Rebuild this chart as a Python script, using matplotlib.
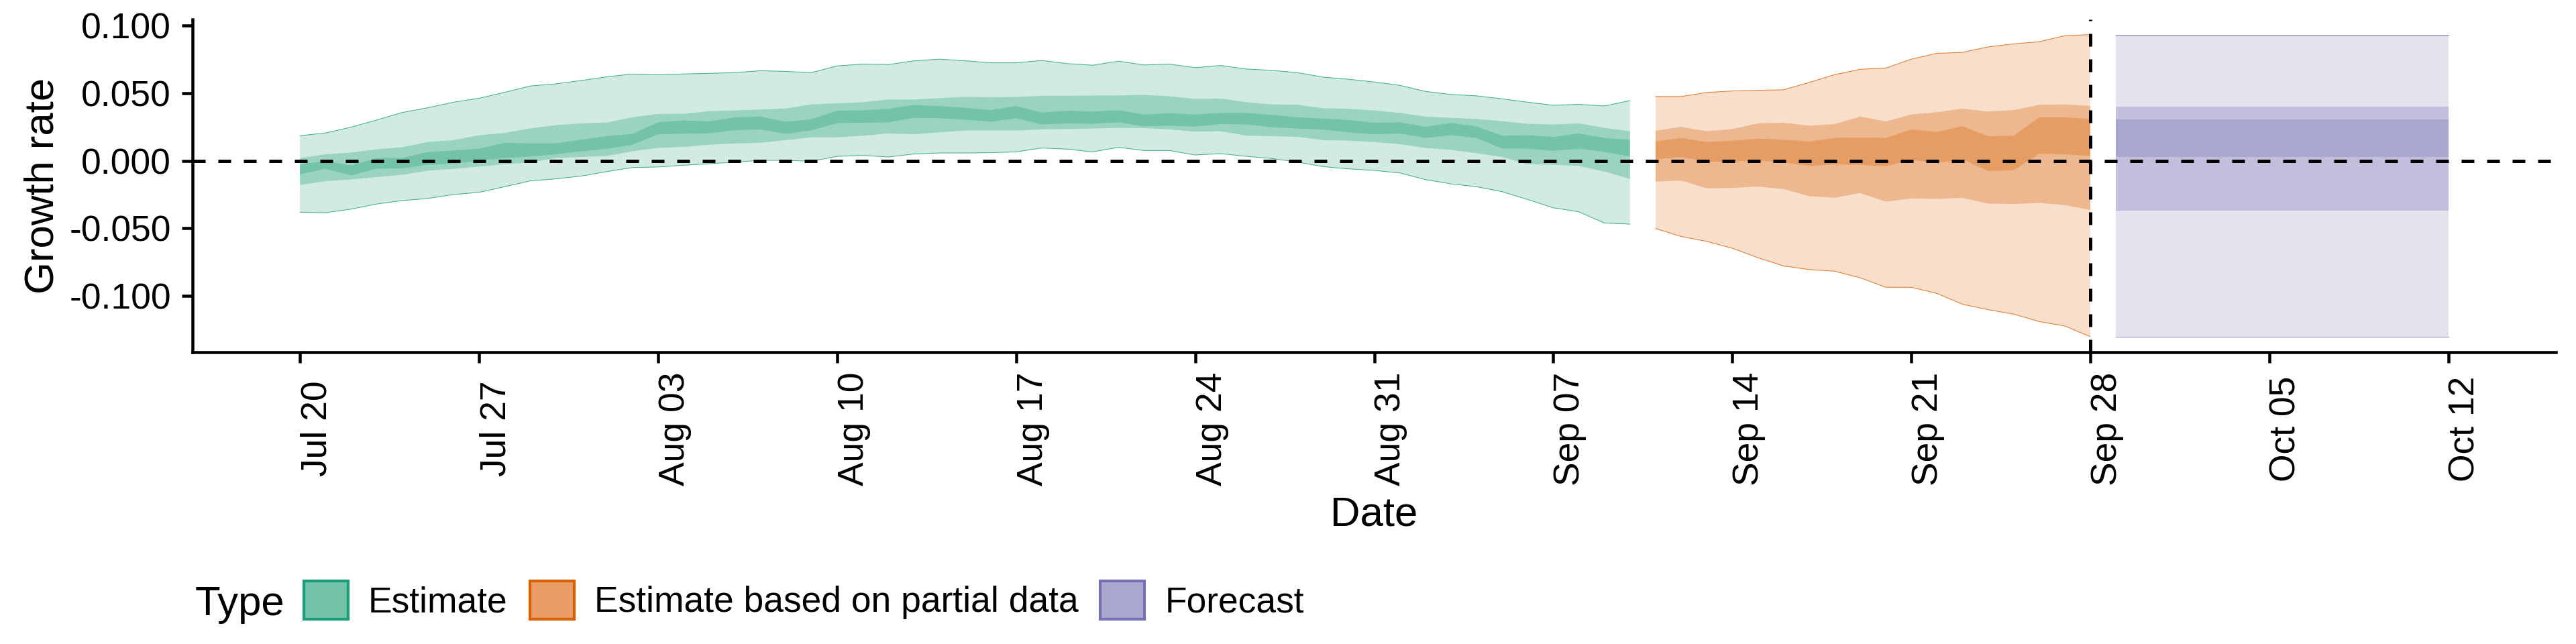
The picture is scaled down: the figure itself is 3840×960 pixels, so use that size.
import numpy as np
import pandas as pd
import matplotlib
matplotlib.use("Agg")
import matplotlib.pyplot as plt
from matplotlib.patches import Patch
from matplotlib.colors import to_rgba

plt.rcParams['font.family'] = ['Liberation Sans', 'DejaVu Sans']

# ---- data (growth rate credible intervals) ----
est_dates = pd.date_range("2020-07-20", "2020-09-10")
est_up90 = [0.0186, 0.0206, 0.0249, 0.0302, 0.0358, 0.0393, 0.0434, 0.0463, 0.0507, 0.0554,
            0.0570, 0.0595, 0.0622, 0.0643, 0.0637, 0.0643, 0.0648, 0.0653, 0.0667, 0.0662,
            0.0653, 0.0703, 0.0716, 0.0713, 0.0740, 0.0753, 0.0741, 0.0726, 0.0726, 0.0743,
            0.0720, 0.0708, 0.0738, 0.0710, 0.0716, 0.0690, 0.0706, 0.0680, 0.0670, 0.0653,
            0.0620, 0.0604, 0.0584, 0.0559, 0.0514, 0.0491, 0.0481, 0.0459, 0.0434, 0.0411,
            0.0418, 0.0406, 0.0446]
est_up50 = [0.0020, 0.0048, 0.0061, 0.0085, 0.0101, 0.0139, 0.0153, 0.0189, 0.0207, 0.0240,
            0.0264, 0.0277, 0.0284, 0.0322, 0.0347, 0.0348, 0.0368, 0.0373, 0.0380, 0.0388,
            0.0418, 0.0426, 0.0434, 0.0454, 0.0454, 0.0464, 0.0474, 0.0471, 0.0473, 0.0481,
            0.0481, 0.0484, 0.0484, 0.0489, 0.0478, 0.0459, 0.0461, 0.0434, 0.0418, 0.0415,
            0.0390, 0.0385, 0.0373, 0.0355, 0.0327, 0.0318, 0.0310, 0.0294, 0.0274, 0.0269,
            0.0277, 0.0244, 0.0219]
est_up20 = [-0.0025, -0.0002, -0.0035, 0.0020, 0.0020, 0.0065, 0.0076, 0.0090, 0.0133, 0.0129,
            0.0129, 0.0156, 0.0182, 0.0199, 0.0285, 0.0299, 0.0292, 0.0322, 0.0328, 0.0289,
            0.0308, 0.0371, 0.0373, 0.0385, 0.0413, 0.0405, 0.0393, 0.0376, 0.0406, 0.0357,
            0.0371, 0.0365, 0.0375, 0.0343, 0.0352, 0.0343, 0.0355, 0.0355, 0.0340, 0.0322,
            0.0313, 0.0302, 0.0282, 0.0285, 0.0252, 0.0280, 0.0255, 0.0186, 0.0189, 0.0177,
            0.0202, 0.0169, 0.0156]
est_lo20 = [-0.0100, -0.0060, -0.0108, -0.0058, -0.0056, -0.0030, -0.0020, 0.0000, 0.0020, 0.0032,
            0.0048, 0.0070, 0.0088, 0.0119, 0.0196, 0.0201, 0.0204, 0.0226, 0.0232, 0.0199,
            0.0226, 0.0279, 0.0282, 0.0285, 0.0318, 0.0315, 0.0305, 0.0289, 0.0315, 0.0269,
            0.0277, 0.0274, 0.0285, 0.0255, 0.0260, 0.0254, 0.0272, 0.0269, 0.0249, 0.0239,
            0.0231, 0.0211, 0.0196, 0.0202, 0.0169, 0.0189, 0.0169, 0.0090, 0.0090, 0.0073,
            0.0090, 0.0066, 0.0032]
est_lo50 = [-0.0179, -0.0151, -0.0138, -0.0121, -0.0104, -0.0073, -0.0060, -0.0043, -0.0025, -0.0013,
            0.0020, 0.0028, 0.0036, 0.0070, 0.0095, 0.0103, 0.0119, 0.0128, 0.0133, 0.0153,
            0.0174, 0.0174, 0.0186, 0.0202, 0.0197, 0.0211, 0.0224, 0.0224, 0.0224, 0.0232,
            0.0235, 0.0239, 0.0244, 0.0242, 0.0232, 0.0216, 0.0219, 0.0186, 0.0182, 0.0177,
            0.0153, 0.0149, 0.0139, 0.0123, 0.0095, 0.0081, 0.0056, 0.0028, -0.0025, -0.0030,
            -0.0038, -0.0080, -0.0134]
est_lo90 = [-0.0381, -0.0385, -0.0358, -0.0320, -0.0295, -0.0279, -0.0250, -0.0234, -0.0192, -0.0149,
            -0.0134, -0.0113, -0.0080, -0.0050, -0.0046, -0.0033, -0.0022, -0.0010, 0.0003, 0.0003,
            -0.0003, 0.0033, 0.0040, 0.0028, 0.0050, 0.0058, 0.0058, 0.0060, 0.0066, 0.0095,
            0.0086, 0.0066, 0.0100, 0.0076, 0.0076, 0.0043, 0.0053, 0.0033, 0.0017, -0.0010,
            -0.0043, -0.0060, -0.0071, -0.0090, -0.0139, -0.0171, -0.0192, -0.0229, -0.0287, -0.0348,
            -0.0378, -0.0461, -0.0469]

part_dates = pd.date_range("2020-09-11", "2020-09-28")
part_up90 = [0.0476, 0.0476, 0.0506, 0.0517, 0.0522, 0.0526, 0.0580, 0.0638, 0.0678, 0.0687,
             0.0753, 0.0796, 0.0803, 0.0844, 0.0866, 0.0882, 0.0927, 0.0935]
part_up50 = [0.0222, 0.0252, 0.0219, 0.0235, 0.0277, 0.0282, 0.0260, 0.0272, 0.0327, 0.0292,
             0.0343, 0.0360, 0.0386, 0.0365, 0.0376, 0.0415, 0.0418, 0.0406]
part_up20 = [0.0144, 0.0169, 0.0139, 0.0148, 0.0164, 0.0156, 0.0143, 0.0169, 0.0172, 0.0169,
             0.0232, 0.0214, 0.0257, 0.0181, 0.0186, 0.0322, 0.0322, 0.0310]
part_lo20 = [0.0012, 0.0028, -0.0008, -0.0005, 0.0003, -0.0013, -0.0038, -0.0027, -0.0030, -0.0041,
             0.0007, -0.0017, 0.0012, -0.0076, -0.0071, 0.0053, 0.0048, 0.0036]
part_lo50 = [-0.0154, -0.0146, -0.0204, -0.0201, -0.0191, -0.0209, -0.0262, -0.0274, -0.0239, -0.0303,
             -0.0279, -0.0282, -0.0275, -0.0317, -0.0320, -0.0312, -0.0328, -0.0365]
part_lo90 = [-0.0502, -0.0561, -0.0597, -0.0648, -0.0718, -0.0779, -0.0806, -0.0818, -0.0867, -0.0937,
             -0.0937, -0.0983, -0.1063, -0.1103, -0.1136, -0.1191, -0.1224, -0.1303]

fc_dates = pd.to_datetime(["2020-09-29", "2020-10-12"])
fc_up90 = [0.0933, 0.0933]
fc_up50 = [0.0400, 0.0400]
fc_up20 = [0.0307, 0.0307]
fc_lo20 = [0.0027, 0.0027]
fc_lo50 = [-0.0371, -0.0371]
fc_lo90 = [-0.1306, -0.1306]

types = ["Estimate", "Estimate based on partial data", "Forecast"]
colours = ["#1B9E77", "#D95F02", "#7570B3"]
forecast_start = pd.Timestamp("2020-09-28")
x_ticks = pd.date_range("2020-07-20", "2020-10-12", freq="7D")
y_ticks = [-0.1, -0.05, 0.0, 0.05, 0.1]

groups = [
    (est_dates, est_lo90, est_lo50, est_lo20, est_up20, est_up50, est_up90),
    (part_dates, part_lo90, part_lo50, part_lo20, part_up20, part_up50, part_up90),
    (fc_dates, fc_lo90, fc_lo50, fc_lo20, fc_up20, fc_up50, fc_up90),
]

# ---- figure ----
W, H = 3840, 960
fig = plt.figure(figsize=(12.8, 3.2), dpi=300)
ax = fig.add_axes([287 / W, 1 - 525 / H, (3810 - 287) / W, (525 - 29) / H])

for (d, lo90, lo50, lo20, up20, up50, up90), col in zip(groups, colours):
    ax.fill_between(d, lo90, up90, facecolor=col, alpha=0.2, linewidth=0)
    ax.fill_between(d, lo50, up50, facecolor=col, alpha=0.3, linewidth=0)
    ax.fill_between(d, lo20, up20, facecolor=col, alpha=0.3, linewidth=0)
    ax.plot(d, up90, color=col, lw=0.25, alpha=0.8)
    ax.plot(d, lo90, color=col, lw=0.25, alpha=0.8)

dash = (0, (3.8, 3.8))
ax.axhline(0, color="black", lw=1.2, linestyle=dash)
ax.axvline(forecast_start, color="black", lw=1.2, linestyle=dash)

ax.margins(x=0.05, y=0.05)

for s in ["top", "right"]:
    ax.spines[s].set_visible(False)
for s in ["left", "bottom"]:
    ax.spines[s].set_linewidth(1.08)

ax.set_xticks(x_ticks)
ax.set_xticklabels([t.strftime("%b %d") for t in x_ticks], rotation=90, ha="left", va="center")
ax.set_yticks(y_ticks)
ax.set_yticklabels([f"{v:.3f}" for v in y_ticks])
ax.tick_params(axis="both", direction="out", length=3.84, width=1.08,
               labelsize=12.8, colors="black")
ax.tick_params(axis="x", pad=23.5)
ax.tick_params(axis="y", pad=3.84)

ax.set_ylabel("Growth rate", fontsize=14.8)
ax.yaxis.set_label_coords((93 - 287) / (3810 - 287), 0.5)
ax.set_xlabel("Date", fontsize=14.8)
ax.xaxis.set_label_coords(0.5, (525 - 739) / (525 - 29))

# legend at the bottom
fs = 12.8
fs_px = fs / 72 * 300
handles = [Patch(facecolor=to_rgba(c, 0.608), edgecolor=c, linewidth=1.0) for c in colours]
fig.text(291 / W, 1 - 901 / H, "Type", fontsize=14.8, ha="left", va="center")
fig.legend(handles, types, loc="center left", bbox_to_anchor=(453 / W, 1 - 894.5 / H),
           ncol=3, frameon=False, fontsize=fs,
           handlelength=66 / fs_px, handleheight=67 / fs_px,
           handletextpad=30 / fs_px, columnspacing=33 / fs_px,
           borderpad=0, borderaxespad=0)

fig.savefig("out.png", dpi=300)
